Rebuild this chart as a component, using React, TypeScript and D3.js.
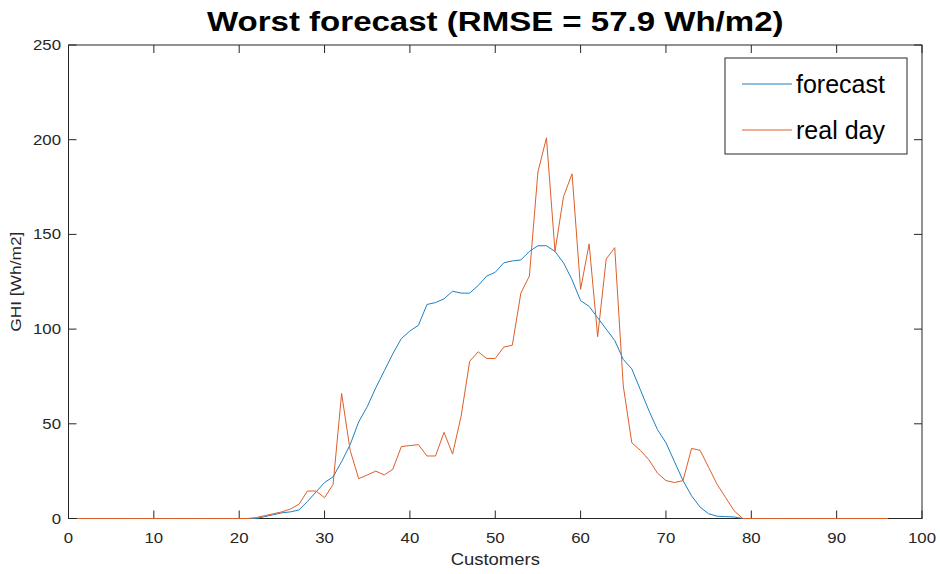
import React from "react";
import * as d3 from "d3";

// Quarter-hour index along the day (1..96)
const steps: number[] = Array.from({ length: 96 }, (_, i) => i + 1);

// Forecast GHI, non-zero between steps 22 and 79
const forecastActive: number[] = [
  0, 1, 2, 3, 3.5, 4.5, 9, 14, 19, 22, // 22-31
  30, 39, 51, 59, 69, 78, 87, 95, 99, 102, // 32-41
  113, 114, 116, 120, 119, 119, 123, 128, 130, 135, // 42-51
  136, 136.5, 141, 144, 144, 141, 135, 126, 115, 112, // 52-61
  106, 100, 94, 84, 79, 68, 57, 47, 40, 30, // 62-71
  20, 12, 6, 2.5, 1.2, 1, 0.8, 0, // 72-79
];

// Measured GHI for the real day, non-zero between steps 22 and 79
const realActive: number[] = [
  0.5, 1.5, 2.5, 3.5, 5, 7.5, 14.5, 14.5, 11, 18, // 22-31
  66, 36, 21, 23, 25, 23, 26, 38, 38.5, 39, // 32-41
  33, 33, 45.5, 34, 54, 83, 88, 84.5, 84.5, 90.5, // 42-51
  91.5, 119, 128, 183, 201, 141, 170, 182, 121, 145, // 52-61
  96, 137, 143, 70, 40, 36, 31, 24, 20, 19, // 62-71
  20, 37, 36, 27, 18, 11, 4, 0, // 72-79
];

const firstActive = 22;

const forecast: number[] = steps.map((s) =>
  s >= firstActive && s < firstActive + forecastActive.length ? forecastActive[s - firstActive] : 0
);
const realDay: number[] = steps.map((s) =>
  s >= firstActive && s < firstActive + realActive.length ? realActive[s - firstActive] : 0
);

const xTicks: number[] = [0, 10, 20, 30, 40, 50, 60, 70, 80, 90, 100];
const yTicks: number[] = [0, 50, 100, 150, 200, 250];

const seriesNames: string[] = ["forecast", "real day"];
const seriesColors: string[] = ["#1f7fc0", "#dc5f2a"];

const W = 940;
const H = 574;
const left = 68.5;
const right = 922;
const top = 45;
const bottom = 518.5;
const axisColor = "#262626";
const font = "'Liberation Sans', Arial, Helvetica, sans-serif";
const tickLen = 8;

export default function App() {
  const x = d3.scaleLinear().domain([0, 100]).range([left, right]);
  const y = d3.scaleLinear().domain([0, 250]).range([bottom, top]);

  const line = d3
    .line<number>()
    .x((_, i) => x(steps[i]))
    .y((d) => y(d));

  const series = [forecast, realDay];

  const legX = 725;
  const legY = 58;
  const legW = 182;
  const legH = 96;
  const cx = (left + right) / 2;

  return (
    <svg
      width={W}
      height={H}
      style={{ position: "absolute", left: 0, top: 0, background: "#fff" }}
      fontFamily={font}
    >
      <rect x={0} y={0} width={W} height={H} fill="#fff" />

      {/* title */}
      <text
        transform={`translate(${cx}, 31) scale(1.18, 1)`}
        textAnchor="middle"
        fontSize={28}
        fontWeight="bold"
        fill="#000"
      >
        Worst forecast (RMSE = 57.9 Wh/m2)
      </text>

      {/* axes box */}
      <rect
        x={left}
        y={top}
        width={right - left}
        height={bottom - top}
        fill="none"
        stroke={axisColor}
        strokeWidth={1}
      />

      {/* x ticks (bottom and top) */}
      {xTicks.map((t) => (
        <g key={"x" + t}>
          <line x1={x(t)} x2={x(t)} y1={bottom} y2={bottom - tickLen} stroke={axisColor} />
          <line x1={x(t)} x2={x(t)} y1={top} y2={top + tickLen} stroke={axisColor} />
          <text
            transform={`translate(${x(t)}, 543) scale(1.12, 1)`}
            textAnchor="middle"
            fontSize={15}
            fill={axisColor}
          >
            {t}
          </text>
        </g>
      ))}

      {/* y ticks (left and right) */}
      {yTicks.map((t) => (
        <g key={"y" + t}>
          <line x1={left} x2={left + tickLen} y1={y(t)} y2={y(t)} stroke={axisColor} />
          <line x1={right} x2={right - tickLen} y1={y(t)} y2={y(t)} stroke={axisColor} />
          <text
            transform={`translate(61, ${y(t) + 5}) scale(1.12, 1)`}
            textAnchor="end"
            fontSize={15}
            fill={axisColor}
          >
            {t}
          </text>
        </g>
      ))}

      {/* axis labels */}
      <text
        transform={`translate(${cx}, 565) scale(1.12, 1)`}
        textAnchor="middle"
        fontSize={16.5}
        fill={axisColor}
      >
        Customers
      </text>
      <text
        transform={`translate(21, ${(top + bottom) / 2}) rotate(-90) scale(1.12, 1)`}
        textAnchor="middle"
        fontSize={15.5}
        fill={axisColor}
      >
        GHI [Wh/m2]
      </text>

      {/* data lines */}
      {series.map((s, k) => (
        <path
          key={seriesNames[k]}
          d={line(s) ?? ""}
          fill="none"
          stroke={seriesColors[k]}
          strokeWidth={1}
          strokeLinejoin="round"
        />
      ))}

      {/* legend */}
      <rect x={legX} y={legY} width={legW} height={legH} fill="#fff" stroke={axisColor} strokeWidth={1} />
      {seriesNames.map((n, k) => (
        <g key={"leg" + n}>
          <line
            x1={legX + 17}
            x2={legX + 67}
            y1={legY + 26 + k * 46}
            y2={legY + 26 + k * 46}
            stroke={seriesColors[k]}
            strokeWidth={1}
          />
          <text x={legX + 71} y={legY + 35 + k * 46} fontSize={25} fill="#000">
            {n}
          </text>
        </g>
      ))}
    </svg>
  );
}
